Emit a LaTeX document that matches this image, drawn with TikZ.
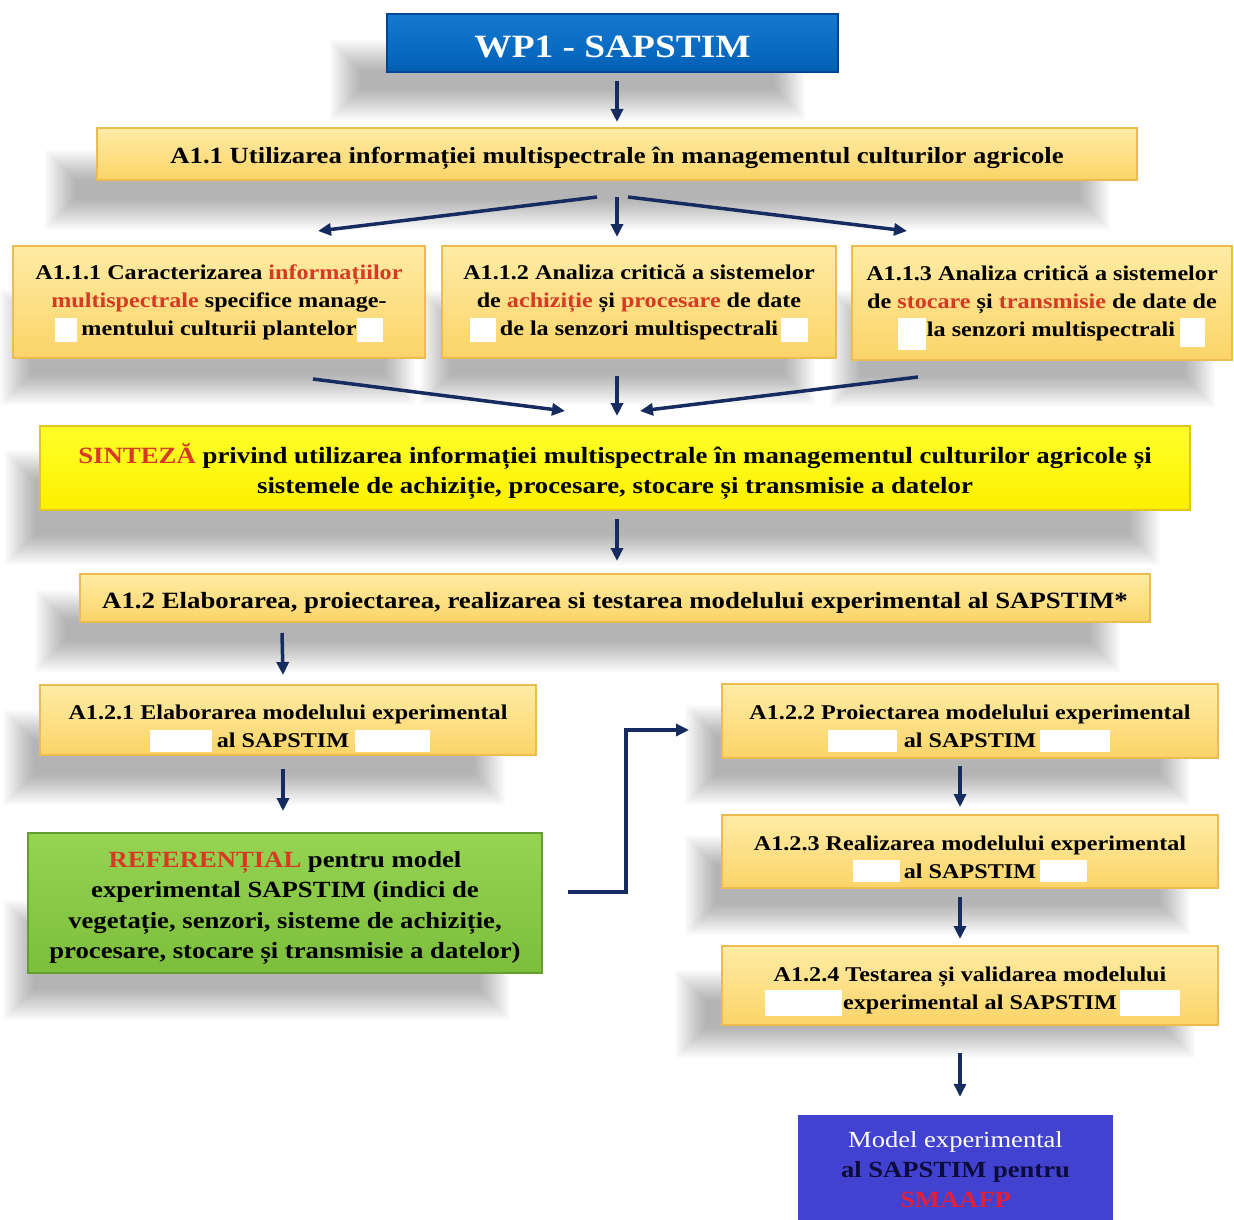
\documentclass[tikz,border=0pt]{standalone}
\usepackage{fontspec}
\setmainfont{Liberation Serif}[BoldFont={Liberation Serif Bold}, FakeStretch=1.15]
\usetikzlibrary{arrows.meta,calc}
\definecolor{arrc}{RGB}{22,44,96}
\definecolor{redt}{RGB}{214,58,36}
\definecolor{ortop}{RGB}{255,236,165}
\definecolor{orbot}{RGB}{251,212,104}
\definecolor{ordraw}{RGB}{236,188,80}
\definecolor{ytop}{RGB}{255,255,40}
\definecolor{ybot}{RGB}{252,240,0}
\definecolor{ydraw}{RGB}{228,196,30}
\definecolor{gtop}{RGB}{150,212,82}
\definecolor{gbot}{RGB}{124,190,60}
\definecolor{gdraw}{RGB}{98,158,48}
\definecolor{btop}{RGB}{22,122,208}
\definecolor{bbot}{RGB}{0,96,182}
\definecolor{bdraw}{RGB}{0,68,150}
\definecolor{mfill}{RGB}{66,66,208}
\definecolor{navyt}{RGB}{12,12,60}
\definecolor{crim}{RGB}{222,32,60}
\newcommand{\rd}[1]{\textcolor{redt}{#1}}
\newcommand{\softsh}[4]{\foreach \k in {0,...,15}{\fill[black,opacity=0.021] ({#1+\k*2},{#2+\k*2}) rectangle ({#3-\k*2},{#4-\k*2});}}
\tikzset{
  basebox/.style={rectangle, inner sep=0pt, line width=2pt},
  obox/.style={basebox, top color=ortop, bottom color=orbot, draw=ordraw},
  ybox/.style={basebox, top color=ytop, bottom color=ybot, draw=ydraw},
  gbox/.style={basebox, top color=gtop, bottom color=gbot, draw=gdraw},
  bbox/.style={basebox, top color=btop, bottom color=bbot, draw=bdraw},
  mbox/.style={rectangle, inner sep=0pt, fill=mfill},
  txt/.style={inner sep=0pt, align=center, text=black},
  arr/.style={draw=arrc, line width=3.5pt, -{Triangle[length=13pt,width=12pt]}},
  patch/.style={fill=white},
  fsmall/.style={font=\fontsize{21}{28}\selectfont\bfseries},
}
\begin{document}
\begin{tikzpicture}[x=1pt,y=-1pt]
\useasboundingbox[fill=white] (0,0) rectangle (1234,1220);
% shadows
\softsh{330}{40}{805}{120}
\softsh{45}{150}{1110}{230}
\softsh{0}{290}{415}{405}
\softsh{420}{290}{815}{405}
\softsh{830}{290}{1215}{407}
\softsh{5}{450}{1160}{565}
\softsh{35}{590}{1120}{672}
\softsh{3}{710}{505}{805}
\softsh{3}{900}{510}{1020}
\softsh{685}{705}{1190}{805}
\softsh{685}{835}{1190}{935}
\softsh{675}{970}{1195}{1058}
% boxes
\node[bbox, minimum width=451pt, minimum height=58pt] (wp) at (612.5,43) {};
\node[obox, minimum width=1040pt, minimum height=52pt] (a11) at (617,154) {};
\node[obox, minimum width=412pt, minimum height=112pt] (a111) at (219,302) {};
\node[obox, minimum width=394pt, minimum height=112pt] (a112) at (639,302) {};
\node[obox, minimum width=380pt, minimum height=114pt] (a113) at (1042,303) {};
\node[ybox, minimum width=1150pt, minimum height=84pt] (syn) at (615,468) {};
\node[obox, minimum width=1070pt, minimum height=48pt] (a12) at (615,598) {};
\node[obox, minimum width=496pt, minimum height=70pt] (a121) at (288,720) {};
\node[gbox, minimum width=514pt, minimum height=140pt] (ref) at (285,903) {};
\node[obox, minimum width=496pt, minimum height=74pt] (a122) at (970,721) {};
\node[obox, minimum width=496pt, minimum height=73pt] (a123) at (970,851.5) {};
\node[obox, minimum width=496pt, minimum height=79pt] (a124) at (970,985.5) {};
\node[mbox, minimum width=315pt, minimum height=110pt] (model) at (955.5,1170) {};
% white patches
\fill[patch] (55,318) rectangle (77,342);
\fill[patch] (357,318) rectangle (383,342);
\fill[patch] (470,318) rectangle (496,342);
\fill[patch] (781,318) rectangle (808,342);
\fill[patch] (898,318) rectangle (926,350);
\fill[patch] (1180,318) rectangle (1205,347);
\fill[patch] (150,730) rectangle (212,752);
\fill[patch] (355,730) rectangle (430,752);
\fill[patch] (828,730) rectangle (897,752);
\fill[patch] (1040,730) rectangle (1110,752);
\fill[patch] (853,860) rectangle (900,882);
\fill[patch] (1040,860) rectangle (1087,882);
\fill[patch] (765,990) rectangle (842,1016);
\fill[patch] (1120,990) rectangle (1180,1016);
% texts
\node[txt, text=white, font=\fontsize{32.5}{36}\selectfont\bfseries] (wpt) at ($(wp)+(0,4)$) {WP1 - SAPSTIM};
\node[txt, font=\fontsize{23.2}{28}\selectfont\bfseries] (a11t) at ($(a11)+(0,4)$) {A1.1 Utilizarea informației multispectrale în managementul culturilor agricole};
\node[txt, fsmall] (a111t) at (a111) {A1.1.1 Caracterizarea \rd{informațiilor}\\\rd{multispectrale} specifice manage-\\mentului culturii plantelor};
\node[txt, fsmall] (a112t) at (a112) {A1.1.2 Analiza critică a sistemelor\\de \rd{achiziție} și \rd{procesare} de date\\de la senzori multispectrali};
\node[txt, fsmall] (a113t) at (a113) {A1.1.3 Analiza critică a sistemelor\\de \rd{stocare} și \rd{transmisie} de date de\\\hspace*{18pt}la senzori multispectrali};
\node[txt, font=\fontsize{23.3}{30}\selectfont\bfseries] (synt) at ($(syn)+(0,3)$) {\rd{SINTEZĂ} privind utilizarea informației multispectrale în managementul culturilor agricole și\\sistemele de achiziție, procesare, stocare și transmisie a datelor};
\node[txt, font=\fontsize{23.3}{28}\selectfont\bfseries] (a12t) at ($(a12)+(0,5)$) {A1.2 Elaborarea, proiectarea, realizarea si testarea modelului experimental al SAPSTIM*};
\node[txt, fsmall] (a121t) at ($(a121)+(0,6)$) {A1.2.1 Elaborarea modelului experimental\\al SAPSTIM\hspace*{10pt}};
\node[txt, font=\fontsize{23.2}{30.5}\selectfont\bfseries] (reft) at ($(ref)+(0,5)$) {\rd{REFERENȚIAL} pentru model\\experimental SAPSTIM (indici de\\vegetație, senzori, sisteme de achiziție,\\procesare, stocare și transmisie a datelor)};
\node[txt, fsmall] (a122t) at ($(a122)+(0,5)$) {A1.2.2 Proiectarea modelului experimental\\al SAPSTIM};
\node[txt, fsmall] (a123t) at ($(a123)+(0,6)$) {A1.2.3 Realizarea modelului experimental\\al SAPSTIM};
\node[txt, fsmall] (a124t) at ($(a124)+(0,5)$) {A1.2.4 Testarea și validarea modelului\\\hspace*{20pt}experimental al SAPSTIM};
\node[txt, font=\fontsize{23.1}{30}\selectfont] (modelt) at (model) {\textcolor{white}{Model experimental}\\\textcolor{navyt}{\bfseries al SAPSTIM pentru}\\\textcolor{crim}{\bfseries SMAAFP}};
% arrows
\draw[arr] ($(wp.south)+(4.5,8)$) -- ($(a11.north)+(0,-5)$);
\draw[arr] ($(a11.south)+(-20,16)$) -- ($(a111.north)+(99,-14)$);
\draw[arr] ($(a11.south)+(0,16)$) -- ($(a112.north)+(-22,-8)$);
\draw[arr] ($(a11.south)+(11,16)$) -- ($(a113.north)+(-135,-14)$);
\draw[arr] ($(a111.south)+(94,20)$) -- ($(syn.north)+(-50,-14)$);
\draw[arr] ($(a112.south)+(-22,17)$) -- ($(syn.north)+(2,-9)$);
\draw[arr] ($(a113.south)+(-124,16)$) -- ($(syn.north)+(25,-14)$);
\draw[arr] ($(syn.south)+(2,8)$) -- ($(a12.north)+(2,-12)$);
\draw[arr] ($(a12.south west)+(203,10)$) -- ($(a121.north)+(-5,-9)$);
\draw[arr] ($(a121.south)+(-5,13)$) -- ($(ref.north)+(-2,-21)$);
\draw[arr] ($(ref.east)+(25,-11)$) -- ++(58,0) |- ($(a122.west)+(-32,9)$);
\draw[arr] ($(a122.south)+(-10,7)$) -- ($(a123.north)+(-10,-7)$);
\draw[arr] ($(a123.south)+(-10,8)$) -- ($(a124.north)+(-10,-6)$);
\draw[arr] ($(a124.south)+(-10,27)$) -- ($(model.north)+(4.5,-18)$);
\end{tikzpicture}
\end{document}
